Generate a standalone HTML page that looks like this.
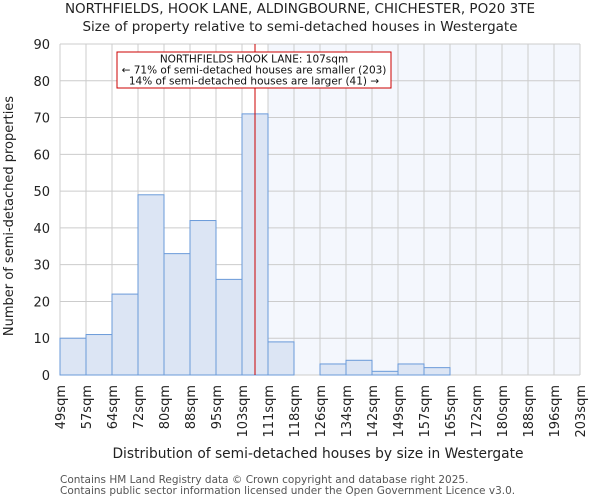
<!DOCTYPE html>
<html><head><meta charset="utf-8"><style>body{margin:0;background:#fff}svg{display:block;font-family:"DejaVu Sans","Liberation Sans",sans-serif}</style></head>
<body>
<svg id="c" width="600" height="500"></svg>
<script>
const labels=["49sqm","57sqm","64sqm","72sqm","80sqm","88sqm","95sqm","103sqm","111sqm","118sqm","126sqm","134sqm","142sqm","149sqm","157sqm","165sqm","172sqm","180sqm","188sqm","196sqm","203sqm"];
const counts=[10,11,22,49,33,42,26,71,9,0,3,4,1,3,2,0,0,0,0,0];
const yTicks=[0,10,20,30,40,50,60,70,80,90];
const markerBin=7.5;
const shadeFromBin=8;
const L=60,R=580,T=44,B=375,yMax=90;
const n=counts.length,bw=(R-L)/n;
const x=i=>L+i*bw, y=v=>B-(B-T)*v/yMax;
const svg=document.getElementById('c');const NS="http://www.w3.org/2000/svg";
function mk(t,a,p){const e=document.createElementNS(NS,t);for(const k in a)e.setAttribute(k,a[k]);(p||svg).appendChild(e);return e;}
let e;
e=mk('rect',{x:x(shadeFromBin),y:T,width:R-x(shadeFromBin),height:B-T,fill:'#f4f7fd'});


for(let i=0;i<=n;i++){e=mk('line',{x1:x(i),x2:x(i),y1:T,y2:B,stroke:'#cccccc'});

}
yTicks.forEach(v=>{e=mk('line',{x1:L,x2:R,y1:y(v),y2:y(v),stroke:'#cccccc'});


e=mk('text',{x:L-10,y:y(v)+5,'text-anchor':'end','font-size':13,fill:'#222'});e.textContent=v;

});
counts.forEach((c,i)=>{if(c<=0)return;e=mk('rect',{x:x(i),y:y(c),width:bw,height:B-y(c),fill:'#dce5f4',stroke:'#6a9ad9','stroke-width':1});

});
labels.forEach((l,i)=>{e=mk('text',{transform:`translate(${x(i)+5},385) rotate(-90)`,'text-anchor':'end','font-size':13,fill:'#222'});e.textContent=l;

});
e=mk('line',{x1:x(markerBin),x2:x(markerBin),y1:T,y2:B,stroke:'#cc0000','stroke-width':1});


const g=mk('g',{});


mk('rect',{x:117,y:52,width:274,height:36,fill:'#fff',stroke:'#cc0000','stroke-width':1},g);
["NORTHFIELDS HOOK LANE: 107sqm","← 71% of semi-detached houses are smaller (203)","14% of semi-detached houses are larger (41) →"].forEach((t,k)=>{const tt=mk('text',{x:254,y:62.5+k*11,'text-anchor':'middle','font-size':10.5,fill:'#111'},g);tt.textContent=t;});
e=mk('text',{x:300,y:13,'text-anchor':'middle','font-size':13.5,fill:'#222'});e.textContent="NORTHFIELDS, HOOK LANE, ALDINGBOURNE, CHICHESTER, PO20 3TE";


e=mk('text',{x:300,y:31,'text-anchor':'middle','font-size':13.5,fill:'#222'});e.textContent="Size of property relative to semi-detached houses in Westergate";


e=mk('text',{x:318,y:458,'text-anchor':'middle','font-size':13.8,fill:'#222'});e.textContent="Distribution of semi-detached houses by size in Westergate";


e=mk('text',{transform:'translate(13,216) rotate(-90)','text-anchor':'middle','font-size':13,fill:'#222'});e.textContent="Number of semi-detached properties";


e=mk('text',{x:60,y:483,'font-size':10.5,fill:'#555'});e.textContent="Contains HM Land Registry data © Crown copyright and database right 2025.";


e=mk('text',{x:60,y:494,'font-size':10.5,fill:'#555'});e.textContent="Contains public sector information licensed under the Open Government Licence v3.0.";


</script>
</body></html>
